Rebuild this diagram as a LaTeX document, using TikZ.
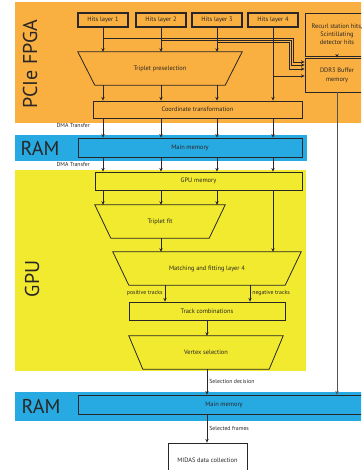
\documentclass[tikz,border=0pt]{standalone}
\usepackage{fontspec}
\setmainfont{PT Sans}
\usetikzlibrary{arrows.meta,calc}
\definecolor{fpga}{RGB}{250,176,64}
\definecolor{ram}{RGB}{39,170,225}
\definecolor{gpu}{RGB}{242,234,46}
\definecolor{ink}{RGB}{40,38,38}
\tikzset{
  >={Stealth[length=3.6pt,width=3.4pt]},
  blk/.style={draw=ink,line width=0.9pt,inner sep=1pt,align=center,
    font=\fontsize{6.4}{8}\selectfont,text=ink},
  hit/.style={blk,line width=1.1pt,minimum width=50pt,minimum height=14pt},
  trap/.style={inner sep=0pt,minimum height=33pt,align=center,
    font=\fontsize{6.4}{8}\selectfont,text=ink},
  edge/.style={draw=ink,line width=0.8pt,line join=miter},
  flow/.style={->,draw=#1,line width=0.8pt},
  flow/.default=ink,
  lbl/.style={font=\fontsize{5.8}{7}\selectfont,text=ink,inner sep=2pt},
  zone/.style={font=\fontsize{20}{24}\selectfont,text=ink,inner sep=0pt},
}

\begin{document}
\begin{tikzpicture}[x=1pt,y=-1pt]
  \useasboundingbox (0,0) rectangle (361,470);
  \clip (0,0) rectangle (361,470);
  % bands
  \fill[fpga] (15,2) rectangle (370,123);
  \fill[ram] (15,135) rectangle (307,161);
  \fill[gpu] (15,170) rectangle (306,371);
  \fill[ram] (15,392) rectangle (370,421);
  \node[zone,rotate=90] (lfpga) at (30,64) {PCIe FPGA};
  \node[zone] (lram1) at (40,148) {RAM};
  \node[zone,rotate=90] (lgpu) at (32,279) {GPU};
  \node[zone] (lram2) at (41,406) {RAM};

  \foreach \i/\x in {1/103,2/161,3/217,4/273}
    \node[hit] (h\i) at (\x,20) {Hits layer \i};
  \node[blk,minimum width=64pt,minimum height=43pt] (recurl) at (337,34.5) {Recurl station hits,\\Scintillating\\detector hits};
  \node[blk,minimum width=64pt,minimum height=34pt,font=\fontsize{6.4}{9}\selectfont] (ddr) at (337,75) {DDR3 Buffer\\memory};
  \node[trap,minimum width=164pt] (pre) at (160,68.5) {Triplet preselection};
  \node[blk,minimum width=209pt,minimum height=17pt] (coord) at (197.5,109.5) {Coordinate transformation};
  \node[blk,minimum width=224pt,minimum height=19pt] (mem1) at (190,147.5) {Main memory};
  \node[blk,minimum width=207pt,minimum height=18pt] (gmem) at (198.5,181) {GPU memory};
  \node[trap,minimum width=130pt] (fit) at (160,221.5) {Triplet fit};
  \node[trap,minimum width=188pt] (match) at (207,268.5) {Matching and fitting layer 4};
  \node[blk,minimum width=156pt,minimum height=18pt] (comb) at (207,311) {Track combinations};
  \node[trap,minimum width=154pt] (vtx) at (206,352.5) {Vertex selection};
  \node[blk,minimum width=292pt,minimum height=19pt] (mem2) at (224,404.5) {Main memory};
  \node[blk,fill=white,minimum width=79pt,minimum height=34pt] (midas) at (207.5,460) {MIDAS data collection};

  \foreach \n/\d in {pre/17,fit/16,match/16,vtx/14}
    \draw[edge] (\n.north west) -- (\n.north east) -- ([xshift=-\d pt]\n.south east)
      -- ([xshift=\d pt]\n.south west) -- cycle;

  \node[lbl,anchor=east] (dma1) at (92,125) {DMA Transfer};
  \node[lbl,anchor=east] (dma2) at (92,164) {DMA Transfer};

  % FPGA
  \foreach \i in {1,2,3} {
    \draw[flow] (h\i) -- (h\i |- pre.north);
    \draw[flow] (h\i |- pre.south) -- (h\i |- coord.north);
    \draw[flow] (h\i |- gmem.south) -- (h\i |- fit.north);
  }
  \draw[flow] (h4) -- (h4 |- coord.north);
  \foreach \i in {1,...,4} {
    \draw[flow] (h\i |- coord.south) -- (h\i |- mem1.north);
    \draw[flow] (h\i |- mem1.south) -- (h\i |- gmem.north);
  }
  \foreach \i/\y/\x/\z in {1/38/293/62,2/40/291/65,3/42/289/69} {
    \coordinate (tap\i) at (h\i |- 0,\y);
    \draw[flow] (tap\i) -| (\x,\z) -- (ddr.west |- 0,\z);
  }
  \coordinate (tap4) at (h4 |- 0,76);
  \draw[flow] (tap4) -- (ddr.west |- tap4);
  \draw[flow] (recurl) -- (ddr);
  \draw[flow=ink!80] (ddr) -- (ddr |- mem2.north);

  % GPU
  \draw[flow] (h4 |- gmem.south) -- (h4 |- match.north);
  \draw[flow] (h2 |- fit.south) -- (h2 |- match.north);
  \draw[flow] ([xshift=-42pt]match.south) -- node[lbl,left] {positive tracks} ([xshift=-42pt]comb.north);
  \draw[flow] ([xshift=43pt]match.south) -- node[lbl,right] {negative tracks} ([xshift=43pt]comb.north);
  \draw[flow] (comb.south -| 207,0) -- (vtx.north -| 207,0);
  \draw[flow] (vtx.south -| 207,0) -- node[lbl,right] {Selection decision} (mem2.north -| 207,0);
  \draw[flow] (mem2.south -| 207,0) -- node[lbl,right] {Selected frames} (midas.north -| 207,0);
\end{tikzpicture}
\end{document}
